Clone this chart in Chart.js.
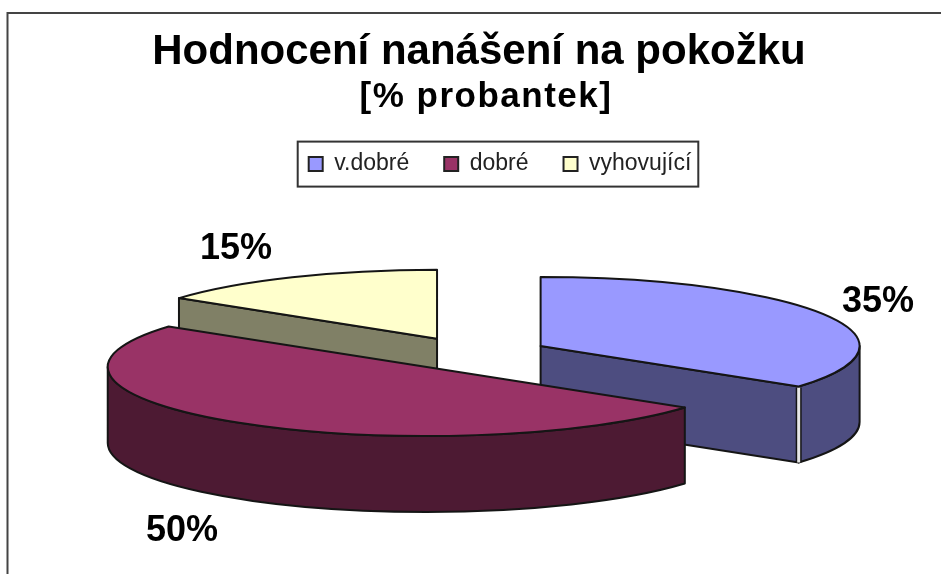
<!DOCTYPE html>
<html>
<head>
<meta charset="utf-8">
<style>html,body{margin:0;padding:0;background:#fff}canvas{display:block}</style>
<script src="https://cdn.jsdelivr.net/npm/chart.js@4"></script>
</head>
<body>
<canvas id="c" width="941" height="574"></canvas>
<script>
const titleText = 'Hodnocení nanášení na pokožku';
const subtitleText = '[% probantek]';
const categories = ['v.dobré', 'dobré', 'vyhovující'];
const values = [35, 50, 15];
const topColors = ['#9999FF', '#993366', '#FFFFCC'];
const sideColors = ['#4D4D80', '#4D1A33', '#808066'];

const FONT = '"Liberation Sans", Arial, sans-serif';
const INK = '#151515';
const RADIUS = 319, TILT = 0.2163, DEPTH = 76, EXPLODE = 77;
const CENTER = {x: 472, y: 353.5};
const LABEL_ANCHORS = [{x: 878, y: 302}, {x: 182, y: 531}, {x: 236, y: 249}];

function findBox(chart, text) {
  return chart.boxes.find(b => b.options && b.options.text === text);
}
function shiftX(box, d) { box.left += d; box.right += d; }

const pie3d = {
  id: 'pie3d',
  afterLayout(chart) {
    const sub = findBox(chart, subtitleText);
    shiftX(sub, 7);
    if (!sub.$spaced) {
      const draw = sub.draw;
      sub.draw = function (...args) {
        const ctx = this.ctx;
        ctx.save();
        ctx.letterSpacing = '1.5px';
        draw.apply(this, args);
        ctx.restore();
      };
      sub.$spaced = true;
    }
    shiftX(chart.legend, 21);
  },
  beforeDraw(chart) {
    const c = chart.ctx, lg = chart.legend;
    c.save();
    c.fillStyle = '#fff';
    c.fillRect(0, 0, chart.width, chart.height);
    c.strokeStyle = '#444';
    c.lineWidth = 2;
    c.beginPath();
    c.moveTo(7.5, chart.height);
    c.lineTo(7.5, 13);
    c.lineTo(chart.width, 13);
    c.stroke();
    const hb = lg.legendHitBoxes;
    const l = Math.min(...hb.map(b => b.left)) - 11;
    const r = Math.max(...hb.map(b => b.left + b.width)) + 7;
    const t = Math.min(...hb.map(b => b.top)) - 11;
    const bt = Math.max(...hb.map(b => b.top + b.height)) + 11;
    c.strokeStyle = '#333';
    c.strokeRect(l, t, r - l, bt - t);
    c.restore();
  },
  beforeDatasetsDraw(chart) {
    const c = chart.ctx;
    const arcs = chart.getDatasetMeta(0).data.map((arc, i) => {
      const mid = (arc.startAngle + arc.endAngle) / 2;
      return {arc, i, mid,
        ox: CENTER.x + Math.cos(mid) * EXPLODE,
        oy: CENTER.y + Math.sin(mid) * EXPLODE * TILT};
    }).sort((a, b) => Math.sin(a.mid) - Math.sin(b.mid));

    for (const s of arcs) {
      const {arc, i, ox, oy} = s;
      const R = arc.outerRadius, Ry = R * TILT;
      const a0 = arc.startAngle, a1 = arc.endAngle;
      const px = a => ox + R * Math.cos(a), py = a => oy + Ry * Math.sin(a);
      c.save();
      c.lineJoin = 'round';
      c.strokeStyle = INK;
      c.lineWidth = 2;
      c.fillStyle = sideColors[i];
      const wall = a => {
        c.beginPath();
        c.moveTo(ox, oy);
        c.lineTo(px(a), py(a));
        c.lineTo(px(a), py(a) + DEPTH);
        c.lineTo(ox, oy + DEPTH);
        c.closePath();
        c.fill();
        c.stroke();
      };
      const startWall = Math.cos(a0) < -1e-6, endWall = Math.cos(a1) > 1e-6;
      if (startWall) wall(a0);
      if (endWall) wall(a1);
      const r0 = Math.max(a0, 0), r1 = Math.min(a1, Math.PI);
      if (r1 > r0) {
        c.beginPath();
        c.ellipse(ox, oy, R, Ry, 0, r0, r1);
        c.ellipse(ox, oy + DEPTH, R, Ry, 0, r1, r0, true);
        c.closePath();
        c.fill();
        c.stroke();
        if (endWall && a1 < Math.PI) {
          c.beginPath();
          c.moveTo(px(a1), py(a1) + 1);
          c.lineTo(px(a1), py(a1) + DEPTH);
          c.lineWidth = 6;
          c.stroke();
          c.strokeStyle = '#E6E6E6';
          c.lineWidth = 3;
          c.stroke();
        }
      }
      c.restore();

      c.save();
      c.translate(ox, oy);
      c.scale(1, TILT);
      c.translate(-arc.x, -arc.y);
      arc.draw(c);
      c.restore();

      c.save();
      c.strokeStyle = INK;
      c.lineWidth = 2;
      c.lineJoin = 'round';
      c.beginPath();
      c.moveTo(ox, oy);
      c.ellipse(ox, oy, R, Ry, 0, a0, a1);
      c.closePath();
      c.stroke();
      c.restore();
    }

    c.save();
    c.fillStyle = '#000';
    c.font = 'bold 36px ' + FONT;
    c.textAlign = 'center';
    c.textBaseline = 'middle';
    values.forEach((v, i) => c.fillText(v + '%', LABEL_ANCHORS[i].x, LABEL_ANCHORS[i].y));
    c.restore();
    return false;
  }
};

new Chart(document.getElementById('c'), {
  type: 'pie',
  data: {
    labels: categories,
    datasets: [{data: values, backgroundColor: topColors, borderWidth: 0}]
  },
  plugins: [pie3d],
  options: {
    responsive: false,
    animation: false,
    radius: RADIUS,
    layout: {padding: {left: 17, top: 29}},
    plugins: {
      tooltip: {enabled: false},
      title: {
        display: true, text: titleText, color: '#000',
        font: {family: FONT, size: 42, weight: 'bold', lineHeight: 1.1},
        padding: {top: 0, bottom: 4}
      },
      subtitle: {
        display: true, text: subtitleText, color: '#000',
        font: {family: FONT, size: 35, weight: 'bold', lineHeight: 1.04},
        padding: {top: 0, bottom: 2}
      },
      legend: {
        position: 'top',
        labels: {
          color: '#222',
          font: {family: FONT, size: 23},
          boxWidth: 14, boxHeight: 14, padding: 35,
          generateLabels(chart) {
            return categories.map((t, i) => ({
              text: t, fillStyle: topColors[i], strokeStyle: '#222',
              lineWidth: 2, index: i, fontColor: '#222'
            }));
          }
        }
      }
    }
  }
});
</script>
</body>
</html>
